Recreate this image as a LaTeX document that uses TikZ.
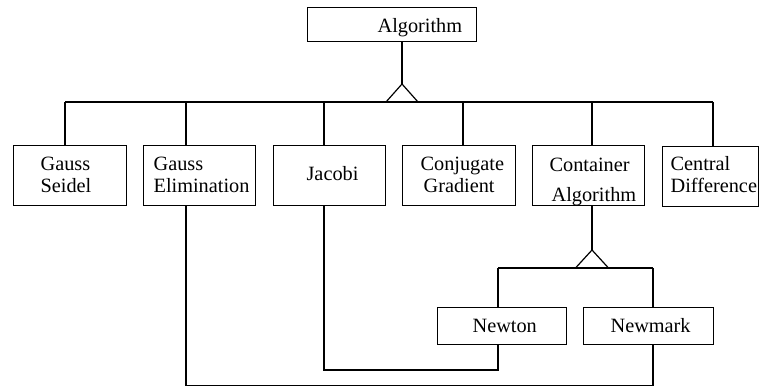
\documentclass[tikz,border=0pt]{standalone}
\usepackage{fontspec}
\setmainfont{Liberation Serif}
\begin{document}
\begin{tikzpicture}[x=1pt,y=-1pt,line width=1.2pt,
  box/.style={draw,rectangle,inner sep=0pt,anchor=north west},
  lbl/.style={inner sep=0pt,anchor=base west,font=\fontsize{20.3}{24}\selectfont},
  wire/.style={draw,line width=1.2pt,line join=miter}]
\useasboundingbox (0,0) rectangle (761,387);

% class boxes
\node[box,minimum width=169pt,minimum height=34pt] (alg) at (307,7) {};
\node[box,minimum width=113pt,minimum height=60pt] (gs) at (13,145) {};
\node[box,minimum width=112pt,minimum height=60pt] (ge) at (143,145) {};
\node[box,minimum width=112pt,minimum height=60pt] (jac) at (273,145) {};
\node[box,minimum width=113pt,minimum height=60pt] (cg) at (402,145) {};
\node[box,minimum width=112pt,minimum height=60pt] (ca) at (532,145) {};
\node[box,minimum width=96pt,minimum height=60pt] (cd) at (662,146) {};
\node[box,minimum width=129pt,minimum height=37pt] (newton) at (437,307) {};
\node[box,minimum width=130pt,minimum height=37pt] (newmark) at (583,307) {};

% labels
\node[lbl] (talg) at (377,33) {Algorithm};
\node[lbl] (tgs1) at (40,171) {Gauss};
\node[lbl] (tgs2) at (40,193) {Seidel};
\node[lbl] (tge1) at (153,171) {Gauss};
\node[lbl] (tge2) at (153,193) {Elimination};
\node[lbl] (tjac) at (306,181) {Jacobi};
\node[lbl] (tcg1) at (420,171) {Conjugate};
\node[lbl] (tcg2) at (423,193) {Gradient};
\node[lbl] (tca1) at (549,172) {Container};
\node[lbl] (tca2) at (551,202) {Algorithm};
\node[lbl] (tcd1) at (670,171) {Central};
\node[lbl] (tcd2) at (670,193) {Difference};
\node[lbl] (tnt) at (472,333) {Newton};
\node[lbl] (tnm) at (610,333) {Newmark};

% top-level inheritance
\coordinate (apex1) at (402,84);
\coordinate (busL) at (65,102);
\coordinate (busR) at (713,102);
\coordinate (d2) at (186,102);
\coordinate (d3) at (324,102);
\coordinate (d4) at (463,102);
\coordinate (d5) at (592,102);
\path[wire] (alg.south -| apex1) -- (apex1);
\path[wire] (apex1) -- ++(-16,18) -- ++(32,0) -- cycle;
\path[wire] (busL) -- (busR);
\path[wire] (busL) -- (busL |- gs.north);
\path[wire] (d2) -- (d2 |- ge.north);
\path[wire] (d3) -- (d3 |- jac.north);
\path[wire] (d4) -- (d4 |- cg.north);
\path[wire] (d5) -- (d5 |- ca.north);
\path[wire] (busR) -- (busR |- cd.north);

% container composition
\coordinate (apex2) at (592,250);
\coordinate (bus2L) at (498,268);
\coordinate (bus2R) at (653,268);
\path[wire] (d5 |- ca.south) -- (apex2);
\path[wire] (apex2) -- ++(-16.5,18) -- ++(33,0) -- cycle;
\path[wire] (bus2L) -- (bus2R);
\path[wire] (bus2L) -- (bus2L |- newton.north);
\path[wire] (bus2R) -- (bus2R |- newmark.north);

% associations
\coordinate (s1) at (324,370);
\coordinate (s2) at (498,370);
\coordinate (r1) at (186,385.5);
\coordinate (r2) at (653,385.5);
\path[wire] (d3 |- jac.south) -- (s1) -- (s2) -- (s2 |- newton.south);
\path[wire] (d2 |- ge.south) -- (r1) -- (r2) -- (r2 |- newmark.south);
\end{tikzpicture}
\end{document}
